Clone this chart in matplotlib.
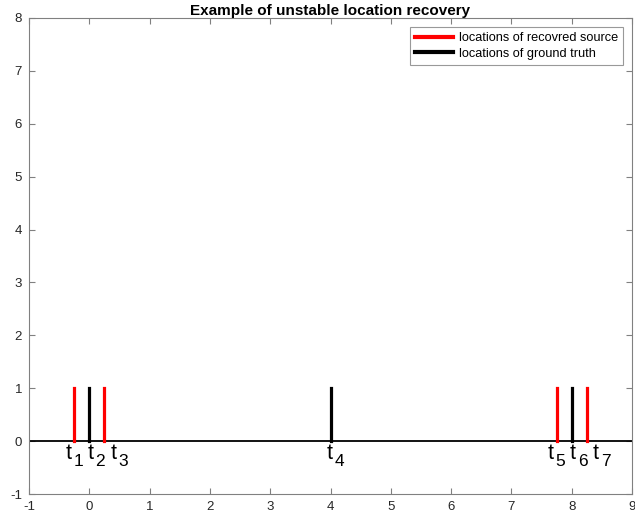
import matplotlib
matplotlib.use("Agg")
import matplotlib.pyplot as plt

recovered = [-0.25, 0.25, 7.75, 8.25]
truth = [0.0, 4.0, 8.0]
height = 1
label_x = [-0.4, -0.03, 0.35, 3.93, 7.6, 7.97, 8.35]
label_names = ["1", "2", "3", "4", "5", "6", "7"]

plt.rcParams['font.family'] = ['Liberation Sans', 'DejaVu Sans']
plt.rcParams['axes.unicode_minus'] = False
fig = plt.figure(figsize=(6.35, 5.21), dpi=100)
ax = fig.add_axes([0.0457, 0.0518, 0.9496, 0.9137])

ax.plot([-1, 9], [0, 0], color='black', lw=1.3)
for i, x in enumerate(recovered):
    ax.plot([x, x], [0, height], color='red', lw=2.3,
            label='locations of recovred source' if i == 0 else None)
for i, x in enumerate(truth):
    ax.plot([x, x], [0, height], color='black', lw=2.3,
            label='locations of ground truth' if i == 0 else None)

for x, n in zip(label_x, label_names):
    ax.annotate('t', xy=(x, 0), xytext=(0, -1.2), textcoords='offset points',
                fontsize=15.5, ha='left', va='top')
    ax.annotate(n, xy=(x, 0), xytext=(5.8, -9.6), textcoords='offset points',
                fontsize=12.5, ha='left', va='top')

ax.set_xlim(-1, 9)
ax.set_ylim(-1, 8)
ax.set_xticks(range(-1, 10))
ax.set_yticks(range(-1, 9))
gray = '#262626'
for s in ax.spines.values():
    s.set_color('#808080')
    s.set_linewidth(0.8)
ax.tick_params(direction='in', colors=gray, labelsize=9.5, length=4, top=True, right=True,
               labeltop=False, labelright=False)
ax.tick_params(axis='both', color='#808080')
ax.tick_params(axis='x', pad=5)
ax.tick_params(axis='y', pad=5)
ax.set_title('Example of unstable location recovery', fontsize=11, fontweight='bold', pad=2)
leg = ax.legend(loc='upper right', fontsize=9.2, frameon=True, fancybox=False,
                edgecolor='#808080', borderaxespad=0.7, handlelength=3.0,
                handletextpad=0.45, borderpad=0.4, labelspacing=0.3)
leg.get_frame().set_linewidth(0.8)
for h in leg.get_lines():
    h.set_linewidth(3)
fig.savefig('out.png', dpi=100)
